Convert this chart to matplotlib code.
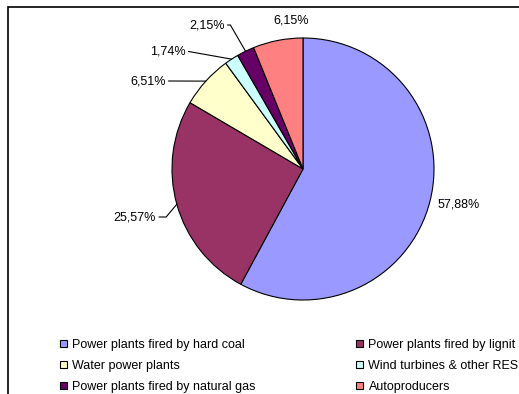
import matplotlib.pyplot as plt
import numpy as np
from matplotlib.patches import Rectangle, Patch

plt.rcParams['font.family'] = ['Liberation Sans', 'DejaVu Sans']

# ── Data ────────────────────────────────────────────────
categories = ['Power plants fired by hard coal', 'Power plants fired by lignit',
              'Water power plants', 'Wind turbines & other RES',
              'Power plants fired by natural gas', 'Autoproducers']
shares = [57.88, 25.57, 6.51, 1.74, 2.15, 6.15]
labels = ['57,88%', '25,57%', '6,51%', '1,74%', '2,15%', '6,15%']
colors = ['#9999FF', '#993366', '#FFFFCC', '#CCFFFF', '#660066', '#FF8080']

# label centres in pixel coords (x, y from top) and leader style
label_pos = [(459, 204), (135, 217), (148, 81), (168, 51), (207, 25), (291, 20)]
leader = [None, 'angle,angleA=0,angleB=50,rad=0', 'arc3', 'arc3',
          'angle,angleA=0,angleB=120,rad=0', None]

W, H = 519, 394
fig = plt.figure(figsize=(W / 100, H / 100), dpi=100)
ax = fig.add_axes([0, 0, 1, 1])

cx, cy, r = 303, H - 169, 131
wedges, _ = ax.pie(shares, colors=colors, startangle=90, counterclock=False,
                   center=(cx, cy), radius=r, frame=True,
                   wedgeprops=dict(edgecolor='black', linewidth=0.8))
ax.set_xlim(0, W)
ax.set_ylim(0, H)
ax.set_aspect('auto')
ax.axis('off')

# outer chart frame (only top/left visible in the crop)
ax.add_patch(Rectangle((8, -20), 700, H - 7 + 20, fill=False, edgecolor='black', lw=1.2))

for w, lab, (lx, ly), conn in zip(wedges, labels, label_pos, leader):
    mid = np.deg2rad((w.theta1 + w.theta2) / 2)
    edge = (cx + r * np.cos(mid), cy + r * np.sin(mid))
    if conn is None:
        ax.text(lx, H - ly, lab, ha='center', va='center', fontsize=9)
    else:
        ax.annotate(lab, xy=edge, xytext=(lx, H - ly), ha='center', va='center',
                    fontsize=9,
                    arrowprops=dict(arrowstyle='-', color='black', lw=0.8,
                                    connectionstyle=conn, relpos=(1, 0.5),
                                    shrinkA=0, shrinkB=0))

handles = [Patch(facecolor=c, edgecolor='black', linewidth=0.8) for c in colors]
# reorder so legend reads row-wise across two columns
order = [0, 2, 4, 1, 3, 5]
fig.legend([handles[i] for i in order], [categories[i] for i in order],
           ncol=2, loc='upper left', bbox_to_anchor=(60 / W, 1 - 339 / H),
           frameon=False, fontsize=9, handlelength=0.55, handleheight=0.55,
           handletextpad=0.45, columnspacing=8.0, labelspacing=0.72,
           borderpad=0, borderaxespad=0)

fig.savefig('out.png', dpi=100)
